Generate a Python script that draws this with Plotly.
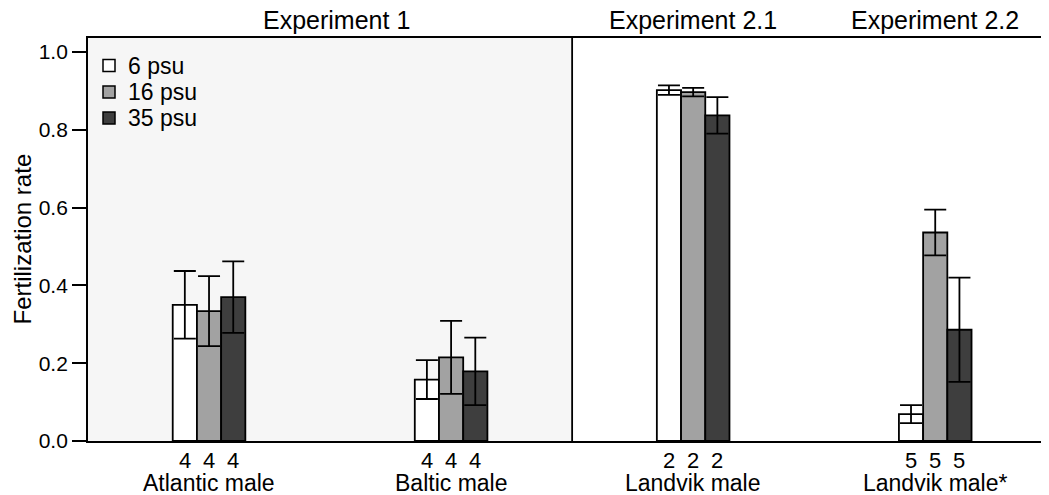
import plotly.graph_objects as go

categories = ["Atlantic male", "Baltic male", "Landvik male", "Landvik male*"]
series_names = ["6 psu", "16 psu", "35 psu"]
means_6 = [0.350, 0.158, 0.902, 0.069]
means_16 = [0.334, 0.215, 0.897, 0.536]
means_35 = [0.370, 0.179, 0.837, 0.286]
err_6 = [0.087, 0.050, 0.012, 0.023]
err_16 = [0.090, 0.094, 0.011, 0.059]
err_35 = [0.092, 0.087, 0.047, 0.134]
counts_6 = [4, 4, 2, 5]
counts_16 = [4, 4, 2, 5]
counts_35 = [4, 4, 2, 5]
experiment_labels = ["Experiment 1", "Experiment 2.1", "Experiment 2.2"]
experiment_centers = [0.525, 2, 3]
y_ticks = [0.0, 0.2, 0.4, 0.6, 0.8, 1.0]

colors = ["#ffffff", "#a2a2a2", "#3e3e3e"]
FONT = "Liberation Sans, Arial, sans-serif"
LW = 1.8

x_idx = list(range(len(categories)))
means = [means_6, means_16, means_35]
errs = [err_6, err_16, err_35]
counts = [counts_6, counts_16, counts_35]
offsets = [-0.1, 0.0, 0.1]

fig = go.Figure()
for name, m, e, c in zip(series_names, means, errs, colors):
    fig.add_trace(go.Bar(
        x=x_idx, y=m, name=name,
        marker=dict(color=c, line=dict(color="black", width=LW)),
        error_y=dict(type="data", array=e, visible=True, color="black",
                     thickness=LW, width=11),
    ))

annotations = []
for cnt, off in zip(counts, offsets):
    for i, v in zip(x_idx, cnt):
        annotations.append(dict(x=i + off, y=0, xref="x", yref="paper",
                                text=str(v), showarrow=False, yanchor="middle",
                                yshift=-19, font=dict(size=22, family=FONT, color="black")))
for i, cat in zip(x_idx, categories):
    annotations.append(dict(x=i, y=0, xref="x", yref="paper", text=cat,
                            showarrow=False, yanchor="middle", yshift=-42,
                            font=dict(size=23, family=FONT, color="black")))
for lab, xc in zip(experiment_labels, experiment_centers):
    annotations.append(dict(x=xc, y=1, xref="x", yref="paper", text=lab,
                            showarrow=False, yanchor="middle", yshift=18,
                            font=dict(size=25, family=FONT, color="black")))
annotations.append(dict(x=0, y=0.5, xref="paper", yref="paper",
                        text="Fertilization rate", textangle=-90, showarrow=False,
                        xanchor="center", yanchor="middle", xshift=-66,
                        font=dict(size=24, family=FONT, color="black")))

shapes = [
    dict(type="rect", xref="x", yref="paper", x0=-0.5, x1=1.5, y0=0, y1=1,
         fillcolor="#f6f6f6", line=dict(width=0), layer="below"),
    dict(type="line", xref="x", yref="paper", x0=1.5, x1=1.5, y0=0, y1=1,
         line=dict(color="black", width=LW)),
]

# manual legend (pixel offsets from the top-left corner of the plot area)
legend_rows = [-27.5, -54, -80]
for name, c, dy in zip(series_names, colors, legend_rows):
    shapes.append(dict(type="rect", xref="paper", yref="paper",
                       xsizemode="pixel", ysizemode="pixel", xanchor=0, yanchor=1,
                       x0=15, x1=27, y0=dy - 6, y1=dy + 6,
                       fillcolor=c, line=dict(color="black", width=1.5)))
    annotations.append(dict(x=0, y=1, xref="paper", yref="paper", text=name,
                            showarrow=False, xanchor="left", yanchor="middle",
                            xshift=38, yshift=dy,
                            font=dict(size=23, family=FONT, color="black")))

fig.update_layout(
    width=1041, height=487,
    margin=dict(l=80, r=0, t=30, b=54),
    paper_bgcolor="white", plot_bgcolor="white",
    barmode="group", bargap=0.7, bargroupgap=0,
    font=dict(family=FONT, size=22, color="black"),
    showlegend=False,
    annotations=annotations,
    shapes=shapes,
    xaxis=dict(range=[-0.5, 3.47], showticklabels=False, ticks="",
               showgrid=False, zeroline=False, showline=True, mirror=True,
               linecolor="black", linewidth=LW, fixedrange=True),
    yaxis=dict(range=[0, 1.036], tickvals=y_ticks, tickformat=".1f",
               ticks="outside", ticklen=14, tickwidth=LW, tickcolor="black",
               showgrid=False, zeroline=False, showline=True, linecolor="black",
               linewidth=LW, tickfont=dict(size=21, family=FONT)),
)

fig.write_html("out.html")
